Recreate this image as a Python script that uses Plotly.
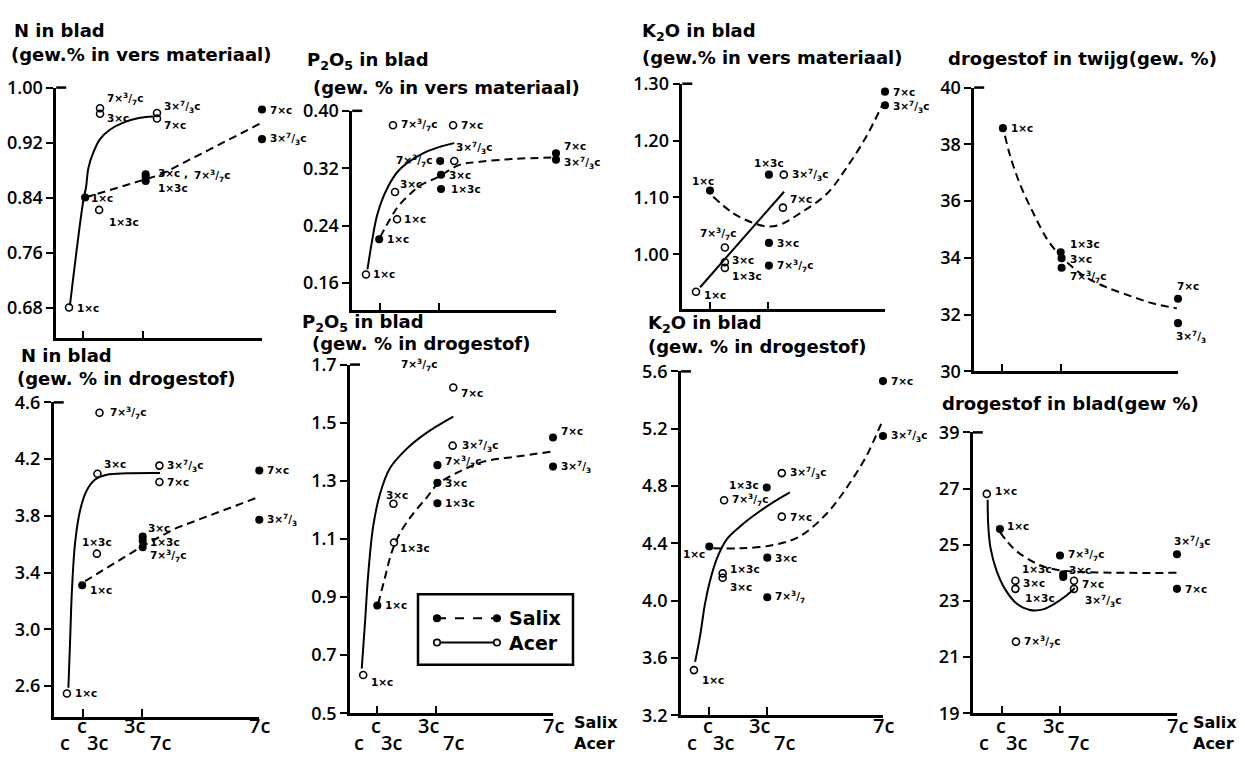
import plotly.graph_objects as go

W, H = 1245, 764
F737 = "7×<sup>3</sup>/<sub>7</sub>c"
F373 = "3×<sup>7</sup>/<sub>3</sub>c"
F37n = "3×<sup>7</sup>/<sub>3</sub>"
F73n = "7×<sup>3</sup>/<sub>7</sub>"

# ---------------- DATA ----------------
# x positions: Salix doses c, 3c, 7c at 1, 3, 7 ; Acer doses plotted at ~0.5, 1.5, 3.5
# 1: N in blad (vers)
n_vers_ticks = [0.68, 0.76, 0.84, 0.92, 1.00]
n_vers_ticktext = ["0.68", "0.76", "0.84", "0.92", "1.00"]
n_vers_salix_x = [1.07, 3.1, 3.1, 3.1, 7.0, 7.0]
n_vers_salix_y = [0.840, 0.874, 0.870, 0.864, 0.968, 0.925]
n_vers_salix_lab = ["1×c", "3×c ,", F737, "1×3c", "7×c", F373]
n_vers_acer_x = [0.53, 1.54, 1.57, 1.57, 3.48, 3.48]
n_vers_acer_y = [0.680, 0.822, 0.970, 0.962, 0.963, 0.955]
n_vers_acer_lab = ["1×c", "1×3c", F737, "3×c", F373, "7×c"]
n_vers_salix_cx = [1.07, 3.05, 3.58, 7.0]
n_vers_salix_cy = [0.840, 0.866, 0.873, 0.949]
n_vers_acer_cx = [0.56, 1.01, 1.10, 1.18, 1.35, 1.57, 1.91, 2.35, 2.91, 3.36]
n_vers_acer_cy = [0.683, 0.836, 0.855, 0.883, 0.906, 0.925, 0.939, 0.949, 0.956, 0.958]

# 2: P2O5 in blad (vers)
p_vers_ticks = [0.16, 0.24, 0.32, 0.40]
p_vers_ticktext = ["0.16", "0.24", "0.32", "0.40"]
p_vers_salix_x = [0.97, 3.05, 3.08, 3.08, 7.0, 7.0]
p_vers_salix_y = [0.221, 0.330, 0.311, 0.291, 0.341, 0.332]
p_vers_salix_lab = ["1×c", F737, "3×c", "1×3c", "7×c", F373]
p_vers_acer_x = [0.52, 1.58, 1.51, 1.44, 3.49, 3.53]
p_vers_acer_y = [0.172, 0.249, 0.287, 0.380, 0.380, 0.330]
p_vers_acer_lab = ["1×c", "1×c", "3×c", F737, "7×c", F373]
p_vers_salix_cx = [1.0, 1.34, 1.62, 2.02, 2.37, 2.94, 3.73, 4.41, 5.55, 7.0]
p_vers_salix_cy = [0.224, 0.249, 0.267, 0.284, 0.296, 0.307, 0.325, 0.329, 0.333, 0.335]
p_vers_acer_cx = [0.57, 0.72, 0.89, 1.11, 1.45, 1.71, 2.48, 3.05, 3.53]
p_vers_acer_cy = [0.179, 0.217, 0.253, 0.280, 0.307, 0.320, 0.341, 0.350, 0.355]

# 3: K2O in blad (vers)
k_vers_ticks = [1.00, 1.10, 1.20, 1.30]
k_vers_ticktext = ["1.00", "1.10", "1.20", "1.30"]
k_vers_salix_x = [1.0, 3.02, 3.02, 3.02, 7.0, 7.0]
k_vers_salix_y = [1.112, 1.140, 1.020, 0.980, 1.286, 1.262]
k_vers_salix_lab = ["1×c", "1×3c", "3×c", F737, "7×c", F373]
k_vers_acer_x = [0.52, 1.51, 1.51, 1.51, 3.53, 3.50]
k_vers_acer_y = [0.934, 0.986, 0.976, 1.012, 1.140, 1.082]
k_vers_acer_lab = ["1×c", "3×c", "1×3c", F737, F373, "7×c"]
k_vers_salix_cx = [1.11, 1.80, 2.48, 2.94, 3.40, 4.08, 5.0, 5.68, 6.37, 6.88]
k_vers_salix_cy = [1.101, 1.072, 1.055, 1.049, 1.052, 1.072, 1.106, 1.152, 1.208, 1.260]
k_vers_acer_cx = [0.66, 3.54]
k_vers_acer_cy = [0.942, 1.110]

# 4: drogestof in twijg
d_twijg_ticks = [30, 32, 34, 36, 38, 40]
d_twijg_ticktext = ["30", "32", "34", "36", "38", "40"]
d_twijg_salix_x = [1.03, 3.0, 3.03, 3.03, 7.0, 7.0]
d_twijg_salix_y = [38.57, 34.2, 33.99, 33.65, 32.56, 31.7]
d_twijg_salix_lab = ["1×c", "1×3c", "3×c", F737, "7×c", F37n]
d_twijg_salix_cx = [1.10, 1.27, 1.61, 2.07, 2.53, 2.92, 3.32, 3.89, 4.57, 5.48, 6.16, 6.96]
d_twijg_salix_cy = [38.30, 37.62, 36.60, 35.57, 34.67, 34.15, 33.75, 33.30, 32.96, 32.62, 32.39, 32.22]

# 5: N in blad (drogestof)
n_dro_ticks = [2.6, 3.0, 3.4, 3.8, 4.2, 4.6]
n_dro_ticktext = ["2.6", "3.0", "3.4", "3.8", "4.2", "4.6"]
n_dro_salix_x = [0.97, 3.03, 3.03, 3.03, 7.0, 7.0]
n_dro_salix_y = [3.310, 3.653, 3.624, 3.578, 4.12, 3.772]
n_dro_salix_lab = ["1×c", "3×c", "1×3c", F737, "7×c", F37n]
n_dro_acer_x = [0.45, 1.56, 1.49, 1.47, 3.60, 3.60]
n_dro_acer_y = [2.547, 4.527, 4.097, 3.533, 4.154, 4.038]
n_dro_acer_lab = ["1×c", F737, "3×c", "1×3c", F373, "7×c"]
n_dro_salix_cx = [1.07, 3.05, 4.19, 7.0]
n_dro_salix_cy = [3.339, 3.590, 3.715, 3.934]
n_dro_acer_cx = [0.50, 0.56, 0.62, 0.73, 0.90, 1.12, 1.41, 1.81, 2.49, 3.62]
n_dro_acer_cy = [2.588, 2.930, 3.271, 3.612, 3.840, 3.977, 4.056, 4.090, 4.100, 4.102]

# 6: P2O5 in blad (drogestof)
p_dro_ticks = [0.5, 0.7, 0.9, 1.1, 1.3, 1.5, 1.7]
p_dro_ticktext = ["0.5", "0.7", "0.9", "1.1", "1.3", "1.5", "1.7"]
p_dro_salix_x = [1.01, 3.06, 3.06, 3.06, 7.0, 7.0]
p_dro_salix_y = [0.871, 1.354, 1.293, 1.223, 1.449, 1.349]
p_dro_salix_lab = ["1×c", F737, "3×c", "1×3c", "7×c", F37n]
p_dro_acer_x = [0.53, 1.58, 1.56, 1.56, 3.58, 3.60]
p_dro_acer_y = [0.632, 1.088, 1.221, 1.734, 1.421, 1.621]
p_dro_acer_lab = ["1×c", "1×3c", "3×c", F737, F373, "7×c"]
p_dro_salix_cx = [1.04, 1.27, 1.50, 1.79, 2.24, 2.70, 3.06, 3.72, 4.63, 5.65, 7.0]
p_dro_salix_cy = [0.877, 0.966, 1.054, 1.121, 1.188, 1.243, 1.288, 1.327, 1.366, 1.382, 1.401]
p_dro_acer_cx = [0.48, 0.59, 0.70, 0.87, 1.10, 1.44, 2.01, 2.70, 3.60]
p_dro_acer_cy = [0.654, 0.81, 0.977, 1.143, 1.254, 1.343, 1.41, 1.466, 1.521]

# 7: K2O in blad (drogestof)
k_dro_ticks = [3.2, 3.6, 4.0, 4.4, 4.8, 5.2, 5.6]
k_dro_ticktext = ["3.2", "3.6", "4.0", "4.4", "4.8", "5.2", "5.6"]
k_dro_salix_x = [1.01, 2.99, 3.01, 3.01, 7.0, 7.0]
k_dro_salix_y = [4.378, 4.789, 4.30, 4.023, 5.532, 5.149]
k_dro_salix_lab = ["1×c", "1×3c", "3×c", F73n, "7×c", F373]
k_dro_acer_x = [0.48, 1.47, 1.47, 1.52, 3.51, 3.51]
k_dro_acer_y = [3.515, 4.19, 4.16, 4.70, 4.89, 4.586]
k_dro_acer_lab = ["1×c", "1×3c", "3×c", F737, F373, "7×c"]
k_dro_salix_cx = [1.15, 2.07, 3.22, 4.14, 5.06, 5.75, 6.44, 6.90, 7.0]
k_dro_salix_cy = [4.365, 4.365, 4.388, 4.45, 4.608, 4.789, 5.014, 5.217, 5.26]
k_dro_acer_cx = [0.52, 0.69, 0.86, 1.03, 1.27, 1.61, 2.07, 2.64, 3.22, 3.79]
k_dro_acer_cy = [3.572, 3.752, 3.977, 4.135, 4.293, 4.428, 4.518, 4.608, 4.687, 4.755]

# 8: drogestof in blad (broken axis: top tick 39)
d_blad_ticks = [19, 21, 23, 25, 27, 29]
d_blad_ticktext = ["19", "21", "23", "25", "27", "39"]
d_blad_salix_x = [0.93, 2.99, 3.10, 3.10, 7.0, 7.0]
d_blad_salix_y = [25.56, 24.62, 23.95, 23.85, 24.66, 23.43]
d_blad_salix_lab = ["1×c", F737, "1×3c", "3×c", F373, "7×c"]
d_blad_acer_x = [0.48, 1.46, 1.46, 3.47, 3.47, 1.48]
d_blad_acer_y = [26.81, 23.72, 23.43, 23.72, 23.43, 21.55]
d_blad_acer_lab = ["1×c", "3×c", "1×3c", "7×c", F373, F737]
d_blad_salix_cx = [0.93, 1.39, 1.85, 2.41, 2.99, 4.0, 7.0]
d_blad_salix_cy = [25.45, 24.87, 24.52, 24.23, 24.09, 24.02, 24.0]
d_blad_acer_cx = [0.51, 0.53, 0.61, 0.82, 1.10, 1.50, 1.96, 2.41, 2.82, 3.22, 3.50]
d_blad_acer_cy = [26.60, 25.68, 24.87, 24.06, 23.43, 22.91, 22.68, 22.70, 22.91, 23.2, 23.46]

# x tick labels (two rows: Salix above, Acer below)
salix_tick_x = [0.95, 2.75, 7.0]
acer_tick_x = [0.4, 1.5, 3.62]
dose_tick_text = ["c", "3c", "7c"]
species_names = ["Salix", "Acer"]

# ---------------- STYLE ----------------
INK = "black"
TITLE_FONT = dict(family="DejaVu Sans", size=18, color=INK, weight="bold")
TICK_FONT = dict(family="Open Sans", size=18, color=INK, weight=600)
LABEL_FONT = dict(family="DejaVu Sans", size=10.5, color=INK, weight="bold")
XROW_FONT = dict(family="Open Sans", size=20, color=INK, weight=600)
NAME_FONT = dict(family="DejaVu Sans", size=16, color=INK, weight="bold")

# label offsets (dx, dy, anchor) per point
n_vers_salix_off = [(4, 0, 'left'), (10, 1, 'left'), (46, 1, 'left'), (10, -7, 'left'), (6, 0, 'left'), (6, 0, 'left')]
n_vers_acer_off = [(6, 0, 'left'), (8, -12, 'left'), (5, 9, 'left'), (5, -4, 'left'), (5, 6, 'left'), (5, -6, 'left')]
p_vers_salix_off = [(6, 0, 'left'), (-6, 0, 'right'), (6, 0, 'left'), (8, 0, 'left'), (6, 7, 'left'), (6, -3, 'left')]
p_vers_acer_off = [(5, 0, 'left'), (5, 0, 'left'), (3, 8, 'left'), (6, 0, 'left'), (6, 0, 'left'), (0, 13, 'left')]
k_vers_salix_off = [(-7, 10, 'center'), (0, 12, 'center'), (6, 0, 'left'), (6, 0, 'left'), (6, 0, 'left'), (6, -2, 'left')]
k_vers_acer_off = [(6, -3, 'left'), (5, 2, 'left'), (5, -8, 'left'), (-7, 13, 'center'), (6, 0, 'left'), (5, 9, 'left')]
d_twijg_salix_off = [(6, 0, 'left'), (7, 8, 'left'), (6, -1, 'left'), (6, -9, 'left'), (10, 13, 'center'), (-4, -14, 'left')]
n_dro_salix_off = [(6, -5, 'left'), (3, 9, 'left'), (5, -1, 'left'), (5, -9, 'left'), (6, 0, 'left'), (6, 0, 'left')]
n_dro_acer_off = [(6, 0, 'left'), (8, 0, 'left'), (5, 10, 'left'), (0, 12, 'center'), (6, 0, 'left'), (6, 0, 'left')]
p_dro_salix_off = [(6, 0, 'left'), (6, 3, 'left'), (6, 0, 'left'), (6, 0, 'left'), (6, 7, 'left'), (6, 0, 'left')]
p_dro_acer_off = [(6, -7, 'left'), (4, -6, 'left'), (4, 9, 'center'), (6, -10, 'left'), (7, 0, 'left'), (6, -5, 'left')]
k_dro_salix_off = [(-2, -8, 'right'), (-6, 3, 'right'), (6, 0, 'left'), (6, 0, 'left'), (6, 0, 'left'), (6, 0, 'left')]
k_dro_acer_off = [(6, -10, 'left'), (5, 4, 'left'), (5, -9, 'left'), (6, 0, 'left'), (6, 0, 'left'), (6, 0, 'left')]
d_blad_salix_off = [(5, 3, 'left'), (6, 0, 'left'), (-9, 5, 'right'), (4, 7, 'left'), (-5, 12, 'left'), (6, 0, 'left')]
d_blad_acer_off = [(6, 3, 'left'), (6, -2, 'left'), (8, -9, 'left'), (6, -3, 'left'), (9, -12, 'left'), (6, 0, 'left')]

fig = go.Figure()
annotations = []
shapes = []


def add_panel(idx, box, xmin, yrange, ticks, ticktext,
              salix, acer, salix_curve, acer_curve,
              salix_shape='spline', acer_shape='spline'):
    left, right, top, bottom = box
    sfx = "" if idx == 1 else str(idx)
    xa, ya = "x" + sfx, "y" + sfx
    fig.update_layout(**{
        "xaxis" + sfx: dict(domain=[left / W, right / W], range=[xmin, 7.0], anchor=ya,
                            tickvals=[1, 3, 7], ticks="inside", ticklen=8, tickwidth=2,
                            tickcolor=INK, showticklabels=False, showline=True,
                            linewidth=2.5, linecolor=INK, showgrid=False, zeroline=False),
        "yaxis" + sfx: dict(domain=[1 - bottom / H, 1 - top / H], range=yrange, anchor=xa,
                            tickvals=ticks, ticktext=ticktext, ticks="outside", ticklen=7,
                            tickwidth=2, tickcolor=INK, showline=True, linewidth=2.5,
                            linecolor=INK, showgrid=False, zeroline=False,
                            tickfont=TICK_FONT),
    })
    # top cap of y axis
    shapes.append(dict(type="line", xref=xa + " domain", yref=ya + " domain",
                       x0=0, x1=10 / (right - left), y0=1, y1=1,
                       line=dict(color=INK, width=2.5)))
    if salix_curve is not None:
        fig.add_trace(go.Scatter(x=salix_curve[0], y=salix_curve[1], xaxis=xa, yaxis=ya,
                                 mode="lines", line=dict(color=INK, width=2, dash="8px,5px",
                                                         shape=salix_shape),
                                 showlegend=False, hoverinfo="skip"))
    if acer_curve is not None:
        fig.add_trace(go.Scatter(x=acer_curve[0], y=acer_curve[1], xaxis=xa, yaxis=ya,
                                 mode="lines", line=dict(color=INK, width=2, shape=acer_shape),
                                 showlegend=False, hoverinfo="skip"))
    ylo, yhi = yrange
    for pts, symbol in ((salix, "circle"), (acer, "circle-open")):
        if pts is None:
            continue
        px, py, lab, off = pts
        fig.add_trace(go.Scatter(x=px, y=py, xaxis=xa, yaxis=ya, mode="markers",
                                 marker=dict(symbol=symbol, size=6.5 if symbol == "circle" else 7,
                                             color=INK, line=dict(color=INK, width=1.6)),
                                 cliponaxis=False, showlegend=False))
        for x, y, t, (dx, dy, anc) in zip(px, py, lab, off):
            # domain-referenced so that labels just outside the axis range still show
            annotations.append(dict(xref=xa + " domain", yref=ya + " domain",
                                    x=(x - xmin) / (7.0 - xmin), y=(y - ylo) / (yhi - ylo),
                                    text=t, showarrow=False,
                                    xanchor=anc, yanchor="middle", xshift=dx, yshift=dy,
                                    font=LABEL_FONT))
    return xa, ya


add_panel(1, (56.2, 262, 77, 336), 0.1, [0.635, 1.00], n_vers_ticks, n_vers_ticktext,
          (n_vers_salix_x, n_vers_salix_y, n_vers_salix_lab, n_vers_salix_off),
          (n_vers_acer_x, n_vers_acer_y, n_vers_acer_lab, n_vers_acer_off),
          (n_vers_salix_cx, n_vers_salix_cy), (n_vers_acer_cx, n_vers_acer_cy),
          salix_shape="linear")
add_panel(2, (352.2, 556, 101, 307), 0.05, [0.122, 0.40], p_vers_ticks, p_vers_ticktext,
          (p_vers_salix_x, p_vers_salix_y, p_vers_salix_lab, p_vers_salix_off),
          (p_vers_acer_x, p_vers_acer_y, p_vers_acer_lab, p_vers_acer_off),
          (p_vers_salix_cx, p_vers_salix_cy), (p_vers_acer_cx, p_vers_acer_cy))
add_panel(3, (682.3, 885, 73, 306), 0.05, [0.903, 1.30], k_vers_ticks, k_vers_ticktext,
          (k_vers_salix_x, k_vers_salix_y, k_vers_salix_lab, k_vers_salix_off),
          (k_vers_acer_x, k_vers_acer_y, k_vers_acer_lab, k_vers_acer_off),
          (k_vers_salix_cx, k_vers_salix_cy), (k_vers_acer_cx, k_vers_acer_cy),
          acer_shape="linear")
add_panel(4, (974.2, 1178, 77, 370), 0.05, [30, 40], d_twijg_ticks, d_twijg_ticktext,
          (d_twijg_salix_x, d_twijg_salix_y, d_twijg_salix_lab, d_twijg_salix_off),
          None, (d_twijg_salix_cx, d_twijg_salix_cy), None)
add_panel(5, (53.7, 259.3, 402, 727), 0.0, [2.38, 4.6], n_dro_ticks, n_dro_ticktext,
          (n_dro_salix_x, n_dro_salix_y, n_dro_salix_lab, n_dro_salix_off),
          (n_dro_acer_x, n_dro_acer_y, n_dro_acer_lab, n_dro_acer_off),
          (n_dro_salix_cx, n_dro_salix_cy), (n_dro_acer_cx, n_dro_acer_cy),
          salix_shape="linear")
add_panel(6, (350, 553, 363, 723), 0.08, [0.5, 1.7], p_dro_ticks, p_dro_ticktext,
          (p_dro_salix_x, p_dro_salix_y, p_dro_salix_lab, p_dro_salix_off),
          (p_dro_acer_x, p_dro_acer_y, p_dro_acer_lab, p_dro_acer_off),
          (p_dro_salix_cx, p_dro_salix_cy), (p_dro_acer_cx, p_dro_acer_cy))
add_panel(7, (680.9, 883, 370, 725), 0.03, [3.2, 5.6], k_dro_ticks, k_dro_ticktext,
          (k_dro_salix_x, k_dro_salix_y, k_dro_salix_lab, k_dro_salix_off),
          (k_dro_acer_x, k_dro_acer_y, k_dro_acer_lab, k_dro_acer_off),
          (k_dro_salix_cx, k_dro_salix_cy), (k_dro_acer_cx, k_dro_acer_cy))
add_panel(8, (972.8, 1177, 433, 723), 0.0, [19, 29], d_blad_ticks, d_blad_ticktext,
          (d_blad_salix_x, d_blad_salix_y, d_blad_salix_lab, d_blad_salix_off),
          (d_blad_acer_x, d_blad_acer_y, d_blad_acer_lab, d_blad_acer_off),
          (d_blad_salix_cx, d_blad_salix_cy), (d_blad_acer_cx, d_blad_acer_cy))

# x tick label rows for bottom panels
for sfx in ("5", "6", "7", "8"):
    for x, t in zip(salix_tick_x, dose_tick_text):
        annotations.append(dict(xref="x" + sfx, yref="paper", x=x, y=1 - 736 / H, text=t,
                                showarrow=False, xanchor="center", yanchor="middle",
                                font=XROW_FONT))
    for x, t in zip(acer_tick_x, dose_tick_text):
        annotations.append(dict(xref="x" + sfx, yref="paper", x=x, y=1 - 753 / H, text=t,
                                showarrow=False, xanchor="center", yanchor="middle",
                                font=XROW_FONT))
# species names next to the 7c tick (panels 6 and 8)
for left_px in (572, 1191):
    for name, ypx in zip(species_names, (733, 754)):
        annotations.append(dict(xref="paper", yref="paper", x=left_px / W, y=1 - ypx / H,
                                text=name, showarrow=False, xanchor="left", yanchor="middle",
                                font=NAME_FONT))

# panel titles
titles = [
    ("N in blad", 12, 18), ("(gew.% in vers materiaal)", 9, 43),
    ("P<sub>2</sub>O<sub>5</sub> in blad", 305, 50), ("(gew. % in vers materiaal)", 311, 77),
    ("K<sub>2</sub>O in blad", 640, 20), ("(gew.% in vers materiaal)", 640, 46),
    ("drogestof in twijg(gew. %)", 946, 47),
    ("N in blad", 19, 354), ("(gew. % in drogestof)", 15, 377),
    ("P<sub>2</sub>O<sub>5</sub> in blad", 300, 320), ("(gew. % in drogestof)", 310, 341),
    ("K<sub>2</sub>O in blad", 646, 321), ("(gew. % in drogestof)", 646, 344),
    ("drogestof in blad(gew %)", 940, 403),
]
for t, x, y in titles:
    annotations.append(dict(xref="paper", yref="paper", x=x / W, y=1 - y / H, text=t,
                            showarrow=False, xanchor="left", yanchor="middle",
                            font=TITLE_FONT))

# legend (box with line/marker samples), placed inside panel 6
LEG_BOX = (418, 600, 573, 673)
LEG_ROWS = [(625, "Salix", "dash", "circle"), (650, "Acer", "solid", "open")]
LEG_X0, LEG_X1, LEG_TX = 437, 497, 507
shapes.append(dict(type="rect", xref="paper", yref="paper",
                   x0=LEG_BOX[0] / W, x1=LEG_BOX[2] / W, y0=1 - LEG_BOX[3] / H, y1=1 - LEG_BOX[1] / H,
                   line=dict(color=INK, width=2.5), fillcolor="white", layer="above"))
for ypx, name, dash, mk in LEG_ROWS:
    shapes.append(dict(type="line", xref="paper", yref="paper",
                       x0=LEG_X0 / W, x1=LEG_X1 / W, y0=1 - ypx / H, y1=1 - ypx / H,
                       line=dict(color=INK, width=2, dash=dash), layer="above"))
    for cx in (LEG_X0, LEG_X1):
        r = 3.3
        shapes.append(dict(type="circle", xref="paper", yref="paper",
                           x0=(cx - r) / W, x1=(cx + r) / W, y0=1 - (ypx + r) / H, y1=1 - (ypx - r) / H,
                           line=dict(color=INK, width=1.6),
                           fillcolor=INK if mk == "circle" else "white", layer="above"))
    annotations.append(dict(xref="paper", yref="paper", x=LEG_TX / W, y=1 - ypx / H, text=name,
                            showarrow=False, xanchor="left", yanchor="middle",
                            font=dict(family="DejaVu Sans", size=19, color=INK, weight="bold")))

fig.update_layout(
    width=W, height=H, margin=dict(l=0, r=0, t=0, b=0),
    paper_bgcolor="white", plot_bgcolor="white",
    annotations=annotations, shapes=shapes,
    showlegend=False,
)

fig.write_html("out.html", config={"displayModeBar": False},
               post_script="document.body.style.margin='0px';")
